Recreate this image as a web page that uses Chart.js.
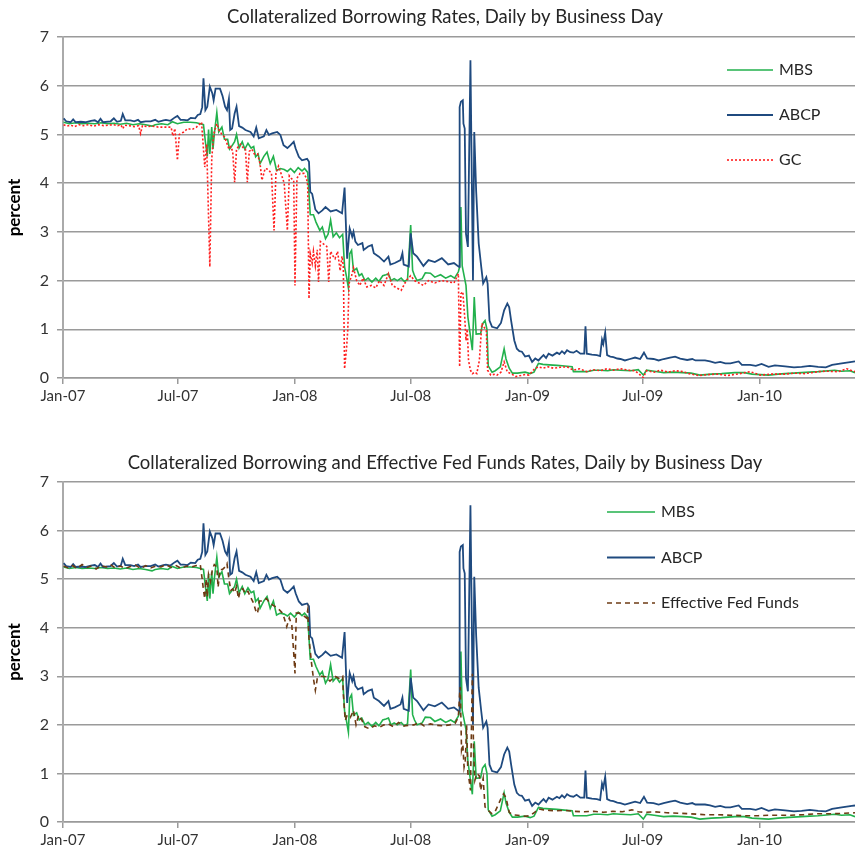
<!DOCTYPE html>
<html>
<head>
<meta charset="utf-8">
<script src="https://cdn.jsdelivr.net/npm/chart.js@4.4.1/dist/chart.umd.min.js"></script>
<style>
  html, body { margin:0; padding:0; background:#fff; }
  canvas { display:block; }
</style>
</head>
<body>
<canvas id="topChart" width="855" height="428"></canvas>
<canvas id="bottomChart" width="855" height="428"></canvas>
<script>
// x values are days since 2007-01-01, y values in percent
const tickDays = [0, 181, 365, 547, 731, 912, 1096];
const tickLabels = ['Jan-07', 'Jul-07', 'Jan-08', 'Jul-08', 'Jan-09', 'Jul-09', 'Jan-10'];
const lastDay = 1246;
const yTicks = [0, 1, 2, 3, 4, 5, 6, 7];

const mbs = [[1,5.25],[10,5.22],[20,5.24],[30,5.22],[40,5.23],[50,5.22],[60,5.24],[70,5.22],[80,5.23],[90,5.21],[100,5.23],[110,5.2],[120,5.22],[130,5.2],[140,5.17],[145,5.2],[155,5.22],[165,5.2],[172,5.26],[180,5.22],[190,5.25],[200,5.25],[210,5.24],[216,5.22],[221,5.2],[224,4.85],[227,4.55],[229,5.1],[231,4.6],[234,5.15],[236,4.7],[238,5.0],[242,5.45],[245,5.05],[250,5.15],[254,4.9],[259,4.9],[262,4.7],[265,4.75],[270,4.85],[273,5.0],[277,4.72],[282,4.85],[286,4.7],[291,4.82],[296,4.72],[300,4.75],[303,4.54],[307,4.6],[310,4.4],[316,4.55],[321,4.64],[326,4.4],[331,4.55],[336,4.26],[342,4.3],[348,4.28],[353,4.24],[358,4.3],[364,4.22],[370,4.32],[376,4.25],[380,4.3],[385,4.22],[389,3.35],[394,3.35],[398,3.2],[404,3.03],[408,3.1],[413,2.86],[417,2.95],[421,3.24],[425,2.9],[430,2.98],[435,2.88],[440,2.95],[443,2.28],[446,2.08],[449,1.85],[451,2.55],[454,2.62],[457,2.2],[462,2.25],[466,2.1],[470,2.14],[475,2.0],[480,2.05],[486,1.97],[492,2.05],[497,1.98],[503,2.1],[508,2.12],[512,2.14],[516,2.0],[521,2.04],[526,2.0],[532,2.05],[537,1.98],[542,2.02],[547,3.14],[550,2.21],[553,2.1],[557,2.0],[565,2.04],[570,2.16],[578,2.15],[585,2.07],[594,2.12],[602,2.05],[610,2.1],[616,2.05],[622,2.18],[624,2.28],[626,3.51],[628,2.3],[634,1.9],[637,1.25],[644,0.57],[647,1.66],[650,0.9],[657,0.91],[660,1.11],[664,1.18],[667,1.0],[669,0.25],[675,0.12],[680,0.15],[688,0.23],[694,0.6],[697,0.39],[702,0.2],[707,0.1],[715,0.1],[727,0.12],[735,0.09],[741,0.12],[748,0.3],[755,0.28],[765,0.27],[777,0.26],[785,0.25],[793,0.24],[801,0.23],[803,0.13],[813,0.13],[824,0.13],[835,0.16],[845,0.16],[857,0.15],[866,0.17],[877,0.16],[893,0.15],[905,0.17],[913,0.06],[918,0.16],[930,0.14],[945,0.11],[960,0.12],[975,0.11],[988,0.1],[1002,0.06],[1020,0.08],[1036,0.09],[1057,0.11],[1072,0.11],[1084,0.08],[1110,0.06],[1125,0.08],[1136,0.09],[1162,0.11],[1175,0.12],[1188,0.13],[1214,0.16],[1225,0.14],[1238,0.15],[1246,0.11]];

const abcp = [[1,5.33],[5,5.27],[12,5.25],[16,5.31],[20,5.25],[28,5.26],[35,5.25],[44,5.28],[50,5.29],[55,5.25],[59,5.32],[63,5.25],[75,5.27],[80,5.33],[85,5.26],[91,5.28],[94,5.42],[98,5.29],[106,5.29],[112,5.27],[118,5.3],[122,5.25],[130,5.27],[138,5.27],[145,5.3],[150,5.26],[158,5.29],[162,5.3],[169,5.28],[176,5.35],[180,5.38],[185,5.3],[190,5.3],[196,5.29],[201,5.34],[208,5.33],[212,5.4],[216,5.42],[219,5.56],[221,6.15],[224,5.5],[227,5.57],[231,5.98],[235,5.84],[237,5.7],[240,5.94],[247,5.94],[251,5.79],[255,5.57],[258,5.5],[261,5.73],[263,5.09],[266,5.12],[270,5.43],[273,5.57],[277,5.17],[282,5.14],[287,5.09],[295,5.05],[300,4.96],[304,5.14],[308,4.92],[316,4.96],[320,5.09],[324,4.99],[329,5.02],[337,5.05],[342,4.99],[347,4.78],[353,4.72],[358,4.78],[363,4.85],[366,4.71],[371,4.54],[376,4.47],[384,4.5],[387,4.44],[389,3.82],[392,3.78],[397,3.46],[402,3.38],[408,3.44],[413,3.51],[421,3.42],[430,3.45],[439,3.38],[443,3.91],[447,2.45],[451,3.07],[455,2.9],[457,3.0],[460,2.8],[464,2.73],[471,2.77],[473,2.63],[480,2.7],[486,2.73],[489,2.56],[497,2.49],[505,2.39],[512,2.49],[515,2.33],[522,2.36],[531,2.42],[534,2.56],[536,2.33],[544,2.29],[547,2.97],[551,2.56],[557,2.49],[567,2.3],[575,2.42],[585,2.38],[596,2.46],[606,2.33],[615,2.36],[623,2.28],[624,5.56],[626,5.67],[629,5.7],[630,5.22],[632,5.12],[634,2.96],[637,2.69],[641,6.52],[645,2.0],[647,5.05],[650,3.84],[654,2.76],[658,2.28],[661,1.94],[666,2.07],[668,1.94],[671,1.18],[675,1.05],[683,1.02],[689,1.13],[694,1.39],[699,1.53],[702,1.45],[705,1.18],[710,0.77],[714,0.6],[718,0.55],[722,0.54],[727,0.44],[733,0.46],[738,0.33],[743,0.4],[748,0.36],[752,0.42],[756,0.47],[760,0.41],[764,0.5],[770,0.46],[777,0.52],[781,0.49],[785,0.55],[789,0.5],[793,0.57],[798,0.53],[803,0.52],[808,0.56],[814,0.5],[820,0.5],[822,1.06],[824,0.5],[832,0.48],[840,0.47],[845,0.45],[848,0.79],[850,0.7],[853,0.93],[856,0.47],[861,0.44],[866,0.43],[872,0.4],[877,0.39],[884,0.36],[892,0.39],[900,0.42],[908,0.39],[914,0.52],[919,0.4],[929,0.39],[937,0.36],[945,0.39],[955,0.42],[963,0.44],[971,0.4],[982,0.37],[990,0.39],[995,0.36],[1010,0.36],[1018,0.34],[1026,0.31],[1034,0.33],[1042,0.3],[1050,0.3],[1063,0.34],[1068,0.27],[1081,0.27],[1090,0.25],[1099,0.29],[1110,0.23],[1120,0.26],[1136,0.24],[1150,0.22],[1162,0.23],[1175,0.25],[1188,0.23],[1200,0.22],[1210,0.27],[1225,0.3],[1241,0.33],[1246,0.34]];

const gc = [[1,5.2],[6,5.17],[12,5.19],[18,5.16],[25,5.2],[32,5.18],[40,5.2],[48,5.17],[56,5.2],[64,5.18],[72,5.19],[80,5.2],[86,5.18],[91,5.2],[94,5.12],[97,5.19],[104,5.18],[112,5.16],[119,5.18],[122,5.02],[125,5.18],[132,5.16],[140,5.17],[150,5.15],[160,5.15],[170,5.15],[173,4.97],[176,5.12],[180,4.47],[183,5.0],[190,5.05],[196,5.12],[203,5.1],[210,5.15],[218,5.25],[223,4.33],[226,4.8],[231,2.28],[234,4.5],[237,5.0],[242,5.22],[245,5.1],[250,5.0],[254,4.95],[257,4.85],[261,4.7],[264,4.75],[267,4.65],[270,4.02],[273,4.7],[279,4.8],[284,4.72],[287,4.7],[290,4.02],[293,4.65],[297,4.7],[301,4.6],[306,4.6],[310,4.4],[313,4.06],[318,4.3],[323,4.28],[328,4.2],[332,3.03],[335,4.2],[339,4.35],[343,4.2],[348,4.0],[353,3.03],[356,4.15],[359,4.1],[363,4.05],[365,1.9],[368,4.1],[373,4.2],[379,4.2],[383,4.1],[385,3.95],[387,1.63],[389,2.55],[392,2.36],[394,2.6],[397,2.3],[400,2.63],[402,1.97],[405,2.8],[410,2.75],[415,2.7],[418,1.97],[421,2.6],[425,2.5],[428,2.45],[432,2.6],[436,2.2],[439,2.5],[441,2.3],[443,0.19],[446,0.6],[448,0.98],[450,1.94],[454,2.1],[457,2.26],[462,2.0],[467,1.9],[472,2.05],[478,1.87],[485,1.9],[492,1.85],[498,2.0],[505,1.9],[512,2.14],[518,1.9],[525,1.85],[532,1.8],[540,2.0],[547,2.1],[553,2.0],[560,1.95],[567,1.9],[575,2.0],[585,1.95],[595,2.0],[605,1.98],[615,1.95],[622,2.14],[624,0.23],[626,1.73],[629,1.77],[632,1.25],[634,0.77],[636,1.0],[638,0.36],[641,0.16],[644,0.09],[648,0.12],[651,0.09],[655,0.36],[659,1.12],[662,1.05],[666,0.98],[668,0.16],[673,0.06],[680,0.08],[683,0.06],[689,0.12],[694,0.33],[699,0.12],[705,0.09],[712,0.03],[720,0.05],[727,0.07],[733,0.06],[738,0.13],[742,0.19],[748,0.23],[755,0.2],[763,0.23],[772,0.2],[782,0.22],[793,0.23],[803,0.16],[813,0.19],[824,0.13],[833,0.17],[845,0.15],[856,0.19],[866,0.16],[877,0.19],[890,0.16],[900,0.15],[913,0.01],[918,0.15],[930,0.12],[940,0.16],[952,0.12],[963,0.15],[975,0.13],[985,0.09],[1000,0.05],[1015,0.07],[1031,0.08],[1045,0.05],[1065,0.09],[1081,0.13],[1097,0.06],[1115,0.08],[1136,0.08],[1150,0.1],[1167,0.09],[1188,0.13],[1200,0.14],[1220,0.13],[1233,0.19],[1241,0.15],[1246,0.13]];

const eff = [[1,5.27],[8,5.23],[15,5.28],[22,5.22],[30,5.3],[38,5.24],[45,5.27],[52,5.21],[60,5.28],[68,5.25],[75,5.3],[82,5.23],[90,5.27],[98,5.22],[106,5.26],[114,5.29],[122,5.22],[130,5.28],[138,5.23],[146,5.27],[154,5.25],[162,5.3],[170,5.24],[178,5.28],[186,5.22],[194,5.27],[202,5.25],[210,5.28],[216,5.3],[219,5.0],[221,4.77],[223,4.6],[225,5.0],[227,4.63],[229,5.1],[232,4.95],[235,5.2],[238,5.3],[242,5.25],[244,4.83],[247,5.2],[251,5.2],[255,5.25],[258,5.32],[261,5.0],[264,4.77],[267,4.8],[270,4.72],[273,4.85],[276,4.6],[279,4.78],[283,4.8],[287,4.7],[291,4.75],[295,4.63],[300,4.5],[303,4.36],[306,4.29],[309,4.55],[314,4.55],[320,4.6],[326,4.5],[332,4.45],[338,4.4],[344,4.32],[348,4.2],[352,4.02],[356,4.2],[360,4.05],[363,3.47],[365,3.06],[367,4.3],[372,4.3],[378,4.25],[383,4.2],[385,4.36],[387,3.78],[391,3.27],[394,2.95],[397,2.71],[400,2.95],[405,3.0],[413,2.99],[420,2.9],[428,3.0],[435,2.95],[440,3.0],[441,2.64],[444,2.09],[447,2.2],[452,2.15],[457,2.3],[461,2.0],[465,2.2],[470,2.1],[475,1.96],[482,1.92],[490,1.98],[498,1.95],[505,2.0],[512,2.02],[520,1.96],[528,2.05],[536,1.98],[544,1.99],[552,2.0],[560,2.05],[568,1.98],[578,2.02],[588,1.99],[598,1.98],[608,2.0],[617,2.03],[622,2.16],[624,2.64],[625,2.78],[627,1.48],[629,1.6],[631,1.13],[633,1.27],[635,1.99],[637,1.0],[639,0.86],[641,0.65],[644,3.05],[646,1.4],[648,0.86],[651,1.0],[655,0.95],[657,0.65],[661,0.9],[664,0.31],[668,0.25],[675,0.17],[680,0.22],[688,0.45],[693,0.58],[697,0.5],[702,0.2],[707,0.15],[715,0.14],[727,0.12],[735,0.13],[742,0.2],[748,0.27],[756,0.25],[765,0.24],[775,0.23],[790,0.24],[805,0.22],[820,0.21],[835,0.22],[850,0.2],[865,0.22],[880,0.21],[895,0.25],[905,0.21],[915,0.2],[930,0.21],[950,0.19],[970,0.18],[985,0.17],[1000,0.16],[1010,0.15],[1030,0.15],[1050,0.14],[1070,0.13],[1094,0.13],[1110,0.14],[1125,0.14],[1145,0.14],[1165,0.15],[1188,0.17],[1210,0.17],[1230,0.18],[1246,0.19]];

const FONT = 'Lato, "Open Sans", sans-serif';
const toPoints = arr => arr.map(([x, y]) => ({ x, y }));

const styles = {
  'MBS': { borderColor: '#22b14c', borderWidth: 1.6, borderDash: [] },
  'ABCP': { borderColor: '#1f4a7f', borderWidth: 1.8, borderDash: [] },
  'GC': { borderColor: '#ff1f1f', borderWidth: 1.6, borderDash: [2, 2] },
  'Effective Fed Funds': { borderColor: '#6e3b14', borderWidth: 1.6, borderDash: [5, 4] }
};

function makeDataset(label, data){
  return Object.assign({ label, data: toPoints(data), pointRadius: 0, tension: 0, fill: false }, styles[label]);
}

// title + in-plot legend drawn on the canvas
const panelDecor = {
  id: 'panelDecor',
  afterDraw(chart, args, opts){
    const ctx = chart.ctx;
    ctx.save();
    ctx.fillStyle = '#262626';
    ctx.font = '18.5px ' + FONT;
    ctx.textAlign = 'center';
    ctx.textBaseline = 'middle';
    ctx.fillText(opts.title, opts.titleX, opts.titleY);
    ctx.textAlign = 'left';
    ctx.font = '16px ' + FONT;
    opts.items.forEach((label, i) => {
      const st = styles[label];
      const y = opts.legendY + i * opts.legendGap;
      ctx.strokeStyle = st.borderColor;
      ctx.lineWidth = st.borderWidth;
      ctx.setLineDash(st.borderDash);
      ctx.beginPath();
      ctx.moveTo(opts.legendX, y);
      ctx.lineTo(opts.legendX + opts.lineLen, y);
      ctx.stroke();
      ctx.setLineDash([]);
      ctx.fillText(label, opts.legendX + opts.lineLen + 6, y);
    });
    ctx.restore();
  }
};

function makeChart(id, datasets, decor, padTop, xAxisH){
  return new Chart(document.getElementById(id), {
    type: 'line',
    data: { datasets },
    options: {
      responsive: false,
      animation: false,
      layout: { padding: { top: padTop, right: 0, left: 0, bottom: 0 } },
      plugins: { legend: { display: false }, tooltip: { enabled: false }, panelDecor: decor },
      scales: {
        x: {
          type: 'linear', min: 0, max: lastDay,
          afterBuildTicks: s => { s.ticks = tickDays.map(v => ({ value: v })); },
          afterFit: s => { s.height = xAxisH; },
          ticks: { callback: (v, i) => tickLabels[i], autoSkip: false, maxRotation: 0, color: '#333', font: { family: FONT, size: 15 }, padding: 3 },
          grid: { drawOnChartArea: false, drawTicks: true, tickLength: 6, color: '#9a9a9a', lineWidth: 1.5 },
          border: { color: '#9a9a9a', width: 1.5 }
        },
        y: {
          min: 0, max: 7,
          afterBuildTicks: s => { s.ticks = yTicks.map(v => ({ value: v })); },
          afterFit: s => { s.width = 63; },
          ticks: { color: '#333', font: { family: FONT, size: 16 }, padding: 8 },
          grid: { color: '#9a9a9a', lineWidth: 1.5, tickLength: 6 },
          border: { color: '#aaaaaa', width: 2 },
          title: { display: true, text: 'percent', color: '#000', font: { family: FONT, size: 17, weight: 'bold' }, padding: { top: 4, bottom: 0 } }
        }
      }
    },
    plugins: [panelDecor]
  });
}

makeChart('topChart',
  [makeDataset('GC', gc), makeDataset('ABCP', abcp), makeDataset('MBS', mbs)],
  { title: 'Collateralized Borrowing Rates, Daily by Business Day', titleX: 445, titleY: 17,
    items: ['MBS', 'ABCP', 'GC'], legendX: 727, legendY: 70, legendGap: 45, lineLen: 46 },
  37, 50);

makeChart('bottomChart',
  [makeDataset('Effective Fed Funds', eff), makeDataset('ABCP', abcp), makeDataset('MBS', mbs)],
  { title: 'Collateralized Borrowing and Effective Fed Funds Rates, Daily by Business Day', titleX: 445, titleY: 35,
    items: ['MBS', 'ABCP', 'Effective Fed Funds'], legendX: 607, legendY: 84, legendGap: 45.5, lineLen: 48 },
  54, 34);
</script>
</body>
</html>
